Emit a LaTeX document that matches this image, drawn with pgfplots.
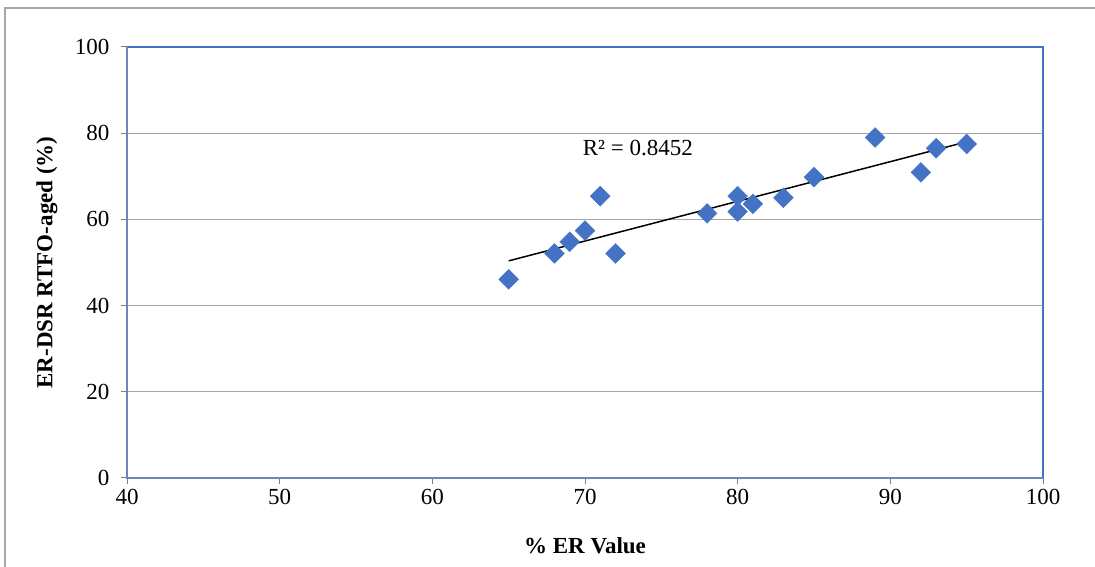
\documentclass[border=0pt]{standalone}
\usepackage{fontspec}
\setmainfont{Liberation Serif}
\usepackage{pgfplots}
\pgfplotsset{compat=1.18}
\definecolor{mblue}{HTML}{4472C4}
\definecolor{axblue}{HTML}{6F87B8}
\definecolor{gridgray}{HTML}{A6A6A6}
\begin{document}
\begin{tikzpicture}[x=1pt,y=1pt]
\useasboundingbox (0,0) rectangle (1095,567);
\draw[color=gridgray, line width=1.2pt] (5,0) -- (5,559) -- (1095,559);
\begin{axis}[
  at={(127pt,89pt)}, anchor=south west,
  width=916pt, height=431pt, scale only axis,
  xmin=40, xmax=100, ymin=0, ymax=100,
  xtick={40,50,60,70,80,90,100},
  ytick={0,20,40,60,80,100},
  axis line style={draw=none},
  ymajorgrids, grid style={color=gridgray, line width=1.2pt},
  xtick pos=left, ytick pos=left,
  tick align=outside, major tick length=6pt,
  tick style={color=gray, line width=1pt},
  /pgf/number format/assume math mode=true,
  ticklabel style={font=\fontsize{23}{27}\selectfont},
  xticklabel style={yshift=-2pt},
  yticklabel style={xshift=-8pt},
  every axis x label/.style={at={(rel axis cs:0.5,0)}, yshift=-68pt, anchor=center},
  every axis y label/.style={at={(rel axis cs:0,0.5)}, xshift=-80pt, rotate=90, anchor=center},
  label style={font=\fontsize{23}{27}\selectfont\bfseries},
  xlabel={\% ER Value},
  ylabel={ER-DSR RTFO-aged (\%)},
  clip=false,
]
\addplot[only marks, mark=square*, mark size=7pt, mark options={rotate=45, fill=mblue, draw=mblue}] coordinates {
(65,46.1) (68,52.1) (69,54.8) (70,57.4) (71,65.4) (72,52.1) (78,61.4) (80,65.4)
(80,61.8) (81,63.6) (83,65.0) (85,69.8) (89,79.0) (92,70.9) (93,76.5) (95,77.5)
};
\addplot[black, line width=1.5pt] coordinates {(65,50.38) (95,78.0)};
\node[font=\fontsize{23}{27}\selectfont, anchor=center] at (axis cs:73.46,76.6) {R² = 0.8452};
\draw[color=mblue, line width=2.5pt] (rel axis cs:0,1) -- (rel axis cs:1,1) -- (rel axis cs:1,0);
\draw[color=axblue, line width=2pt] (rel axis cs:0,1) -- (rel axis cs:0,0) -- (rel axis cs:1,0);
\end{axis}
\end{tikzpicture}
\end{document}
